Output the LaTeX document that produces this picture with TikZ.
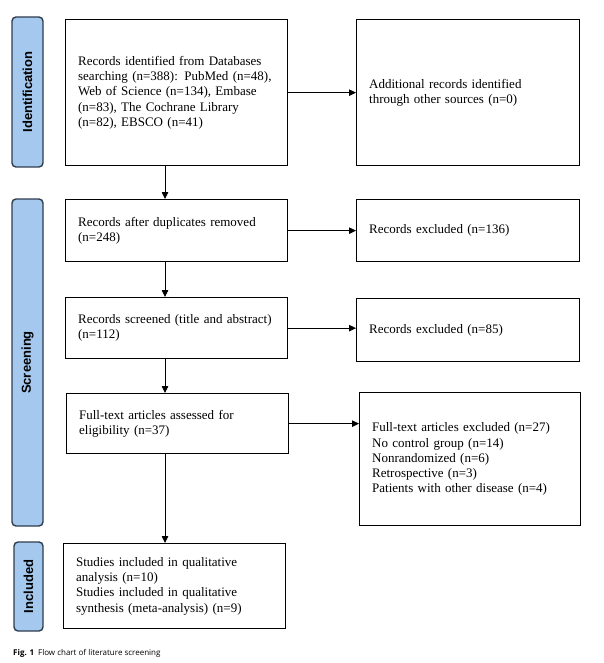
\documentclass[tikz,border=0pt]{standalone}
\usepackage{fontspec}
\setmainfont{Liberation Serif}
\newfontfamily\labelfont{Liberation Sans}
\newfontfamily\capfont{Open Sans}
\usetikzlibrary{arrows.meta}
\definecolor{sidefill}{HTML}{A4C8EE}
\definecolor{sideline}{HTML}{2E3D4E}
\tikzset{
  flowbox/.style={draw=black, line width=1.3pt, anchor=north west, align=left,
    inner xsep=12.5pt, inner ysep=0pt, font=\fontsize{13}{15.2}\selectfont},
  sidebox/.style={draw=sideline, fill=sidefill, line width=1.4pt, rounded corners=4pt},
  sidelabel/.style={rotate=90, font=\labelfont\bfseries\fontsize{13}{15}\selectfont},
  arr/.style={line width=0.8pt, -{Triangle[length=7pt,width=6.5pt]}}
}
\begin{document}
\begin{tikzpicture}[x=1pt,y=-1pt]
\useasboundingbox (0,0) rectangle (604,663);
% side boxes
\draw[sidebox] (12,17) rectangle (43,167);
\node[sidelabel] (lid) at (27.5,92) {Identification};
\draw[sidebox] (12,199) rectangle (43,526);
\node[sidelabel] (lscr) at (27.5,362.5) {Screening};
\draw[sidebox] (14,542) rectangle (43,631);
\node[sidelabel] (linc) at (28.5,586.5) {Included};
% left column
\node[flowbox, text width=197pt, minimum height=146pt] (id1) at (65,19)
  {Records identified from Databases\\searching (n=388): PubMed (n=48),\\Web of Science (n=134), Embase\\(n=83), The Cochrane Library\\(n=82), EBSCO (n=41)};
\node[flowbox, text width=197pt, minimum height=62pt] (dup) at (65,199)
  {Records after duplicates removed\\(n=248)};
\node[flowbox, text width=197pt, minimum height=61pt] (scr) at (65,297)
  {Records screened (title and abstract)\\(n=112)};
\node[flowbox, text width=197pt, minimum height=60pt] (ft) at (66,393)
  {Full-text articles assessed for\\eligibility (n=37)};
\node[flowbox, text width=197pt, minimum height=85pt] (inc) at (63,543)
  {Studies included in qualitative\\analysis (n=10)\\Studies included in qualitative\\synthesis (meta-analysis) (n=9)};
% right column
\node[flowbox, text width=198pt, minimum height=146pt] (add) at (356,19)
  {Additional records identified\\through other sources (n=0)};
\node[flowbox, text width=198pt, minimum height=62pt] (ex1) at (356,199)
  {Records excluded (n=136)};
\node[flowbox, text width=198pt, minimum height=63pt] (ex2) at (356,298)
  {Records excluded (n=85)};
\node[flowbox, text width=196pt, minimum height=133pt] (ex3) at (359,392)
  {Full-text articles excluded (n=27)\\No control group (n=14)\\Nonrandomized (n=6)\\Retrospective (n=3)\\Patients with other disease (n=4)};
% arrows
\coordinate (ax) at (165,0);
\draw[arr] (id1.south -| ax) -- (dup.north -| ax);
\draw[arr] (dup.south -| ax) -- (scr.north -| ax);
\draw[arr] (scr.south -| ax) -- (ft.north -| ax);
\draw[arr] (ft.south -| ax) -- (inc.north -| ax);
\draw[arr] (id1.east) -- (id1.east -| add.west);
\draw[arr] (dup.east) -- (dup.east -| ex1.west);
\draw[arr] (scr.east) -- (scr.east -| ex2.west);
\draw[arr] (ft.east) -- (ft.east -| ex3.west);
% caption
\node[anchor=west, inner sep=0pt, font=\capfont\fontsize{8}{10}\selectfont] (cap) at (13,653)
  {\textbf{Fig. 1}\hspace{0.5em}Flow chart of literature screening};
\end{tikzpicture}
\end{document}
